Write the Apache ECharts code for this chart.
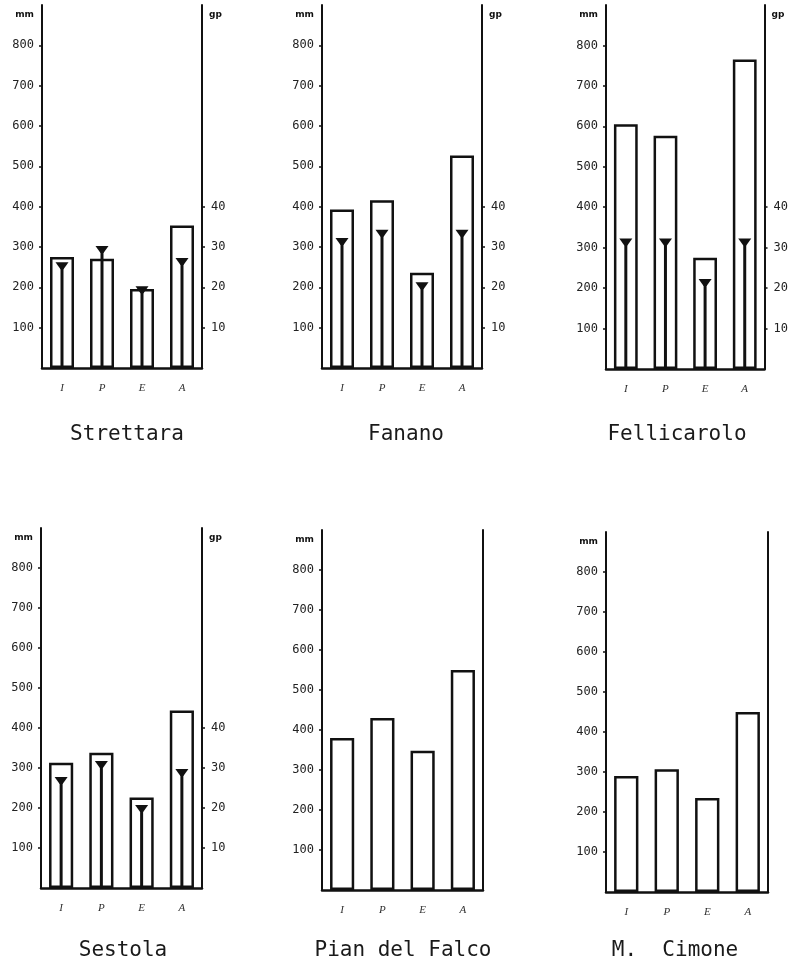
<!DOCTYPE html>
<html>
<head>
<meta charset="utf-8">
<script src="https://cdn.jsdelivr.net/npm/echarts@6/dist/echarts.min.js"></script>
<style>
  html, body { margin: 0; padding: 0; background: #fff; }
  #chart { width: 791px; height: 965px; }
</style>
</head>
<body>
<div id="chart"></div>
<script>
// Seasons: Inverno, Primavera, Estate, Autunno
const seasons = ['I', 'P', 'E', 'A'];
const stations = ['Strettara', 'Fanano', 'Fellicarolo', 'Sestola', 'Pian del Falco', 'M.  Cimone'];

// Seasonal precipitation (mm)
const strettaraMm = [275, 271, 196, 353];
const fananoMm = [393, 416, 236, 527];
const fellicaroloMm = [605, 577, 275, 765];
const sestolaMm = [313, 338, 226, 444];
const pianDelFalcoMm = [380, 430, 348, 550];
const cimoneMm = [290, 307, 235, 450];

// Seasonal rainy days (gp); null where not recorded
const strettaraGp = [26, 30, 20, 27];
const fananoGp = [32, 34, 21, 34];
const fellicaroloGp = [32, 32, 22, 32];
const sestolaGp = [27.5, 31.5, 20.5, 29.5];
const pianDelFalcoGp = null;
const cimoneGp = null;

// Axis scales and labelled ticks
const mmMax = 900;
const gpMax = 90;
const mmTicks = [100, 200, 300, 400, 500, 600, 700, 800];
const gpTicks = [10, 20, 30, 40];

const mmSeries = [strettaraMm, fananoMm, fellicaroloMm, sestolaMm, pianDelFalcoMm, cimoneMm];
const gpSeries = [strettaraGp, fananoGp, fellicaroloGp, sestolaGp, pianDelFalcoGp, cimoneGp];

// Panel frames (plot area boxes) and title placement
const frames = [
  { left: 42,  top: 5,   width: 160, height: 363 },
  { left: 322, top: 5,   width: 160, height: 363 },
  { left: 606, top: 5,   width: 161, height: 364 },
  { left: 41,  top: 528, width: 161, height: 360 },
  { left: 322, top: 530, width: 161, height: 360 },
  { left: 606, top: 532, width: 162, height: 360 }
];
const titlePos = [
  { x: 122, y: 419 }, { x: 401, y: 419 }, { x: 672, y: 419 },
  { x: 118, y: 935 }, { x: 398, y: 935 }, { x: 670, y: 935 }
];

const ink = '#111';
const monoFont = '"DejaVu Sans Mono", monospace';

const grid = [], xAxis = [], yAxis = [], series = [], title = [];

frames.forEach((f, i) => {
  grid.push({ left: f.left, top: f.top, width: f.width, height: f.height, containLabel: false });

  xAxis.push({
    type: 'category', gridIndex: i, data: seasons, boundaryGap: true,
    axisLine: { lineStyle: { color: ink, width: 2.5 } },
    axisTick: { show: false },
    axisLabel: { color: '#333', fontFamily: '"Liberation Serif", serif', fontStyle: 'italic', fontSize: 11, margin: 15 },
    splitLine: { show: false }
  });

  const hasGp = gpSeries[i] !== null;

  yAxis.push({
    type: 'value', gridIndex: i, min: 0, max: mmMax, interval: 100, position: 'left',
    name: 'mm', nameLocation: 'end', nameGap: -14,
    nameTextStyle: { color: ink, fontFamily: '"DejaVu Sans", sans-serif', fontWeight: 'bold', fontSize: 9, align: 'right', padding: [0, 8, 0, 0] },
    axisLine: { show: true, onZero: false, lineStyle: { color: ink, width: 2 } },
    axisTick: { show: true, customValues: mmTicks, length: 3, lineStyle: { color: ink, width: 1.5 } },
    axisLabel: { customValues: mmTicks, color: '#222', fontFamily: monoFont, fontSize: 12, margin: 8, padding: [0, 0, 6, 0] },
    splitLine: { show: false }
  });

  yAxis.push({
    type: 'value', gridIndex: i, min: 0, max: gpMax, interval: 10, position: 'right',
    name: hasGp ? 'gp' : '', nameLocation: 'end', nameGap: -14,
    nameTextStyle: { color: ink, fontFamily: '"DejaVu Sans", sans-serif', fontWeight: 'bold', fontSize: 9, align: 'left', padding: [0, 0, 0, 7] },
    axisLine: { show: true, onZero: false, lineStyle: { color: ink, width: 2 } },
    axisTick: { show: hasGp, customValues: gpTicks, length: 3, lineStyle: { color: ink, width: 1.5 } },
    axisLabel: { show: hasGp, customValues: gpTicks, color: '#222', fontFamily: monoFont, fontSize: 12, margin: 9, padding: [0, 0, 6, 0] },
    splitLine: { show: false }
  });

  series.push({
    type: 'bar', xAxisIndex: i, yAxisIndex: 2 * i,
    data: mmSeries[i], barWidth: '60%', z: 2,
    itemStyle: { color: '#fff', borderColor: ink, borderWidth: 2.5 },
    silent: true
  });

  if (hasGp) {
    series.push({
      type: 'custom', xAxisIndex: i, yAxisIndex: 2 * i + 1, z: 5, silent: true,
      data: gpSeries[i].map((v, k) => [k, v]),
      encode: { x: 0, y: 1 },
      renderItem: (params, api) => {
        const top = api.coord([api.value(0), api.value(1)]);
        const base = api.coord([api.value(0), 0]);
        const cx = top[0], ty = top[1];
        return {
          type: 'group',
          children: [
            { type: 'line', shape: { x1: cx, y1: ty, x2: cx, y2: base[1] }, style: { stroke: ink, lineWidth: 3 } },
            { type: 'polygon', shape: { points: [[cx - 6.5, ty - 1], [cx + 6.5, ty - 1], [cx + 1.5, ty + 6], [cx - 1.5, ty + 6]] }, style: { fill: ink } }
          ]
        };
      }
    });
  }

  title.push({
    text: stations[i], left: titlePos[i].x, top: titlePos[i].y, textAlign: 'center',
    textStyle: { color: '#1a1a1a', fontFamily: monoFont, fontWeight: 'normal', fontSize: 21 }
  });
});

const chart = echarts.init(document.getElementById('chart'), null, { renderer: 'canvas' });
chart.setOption({
  backgroundColor: '#fff',
  animation: false,
  title, grid, xAxis, yAxis, series
});
</script>
</body>
</html>
